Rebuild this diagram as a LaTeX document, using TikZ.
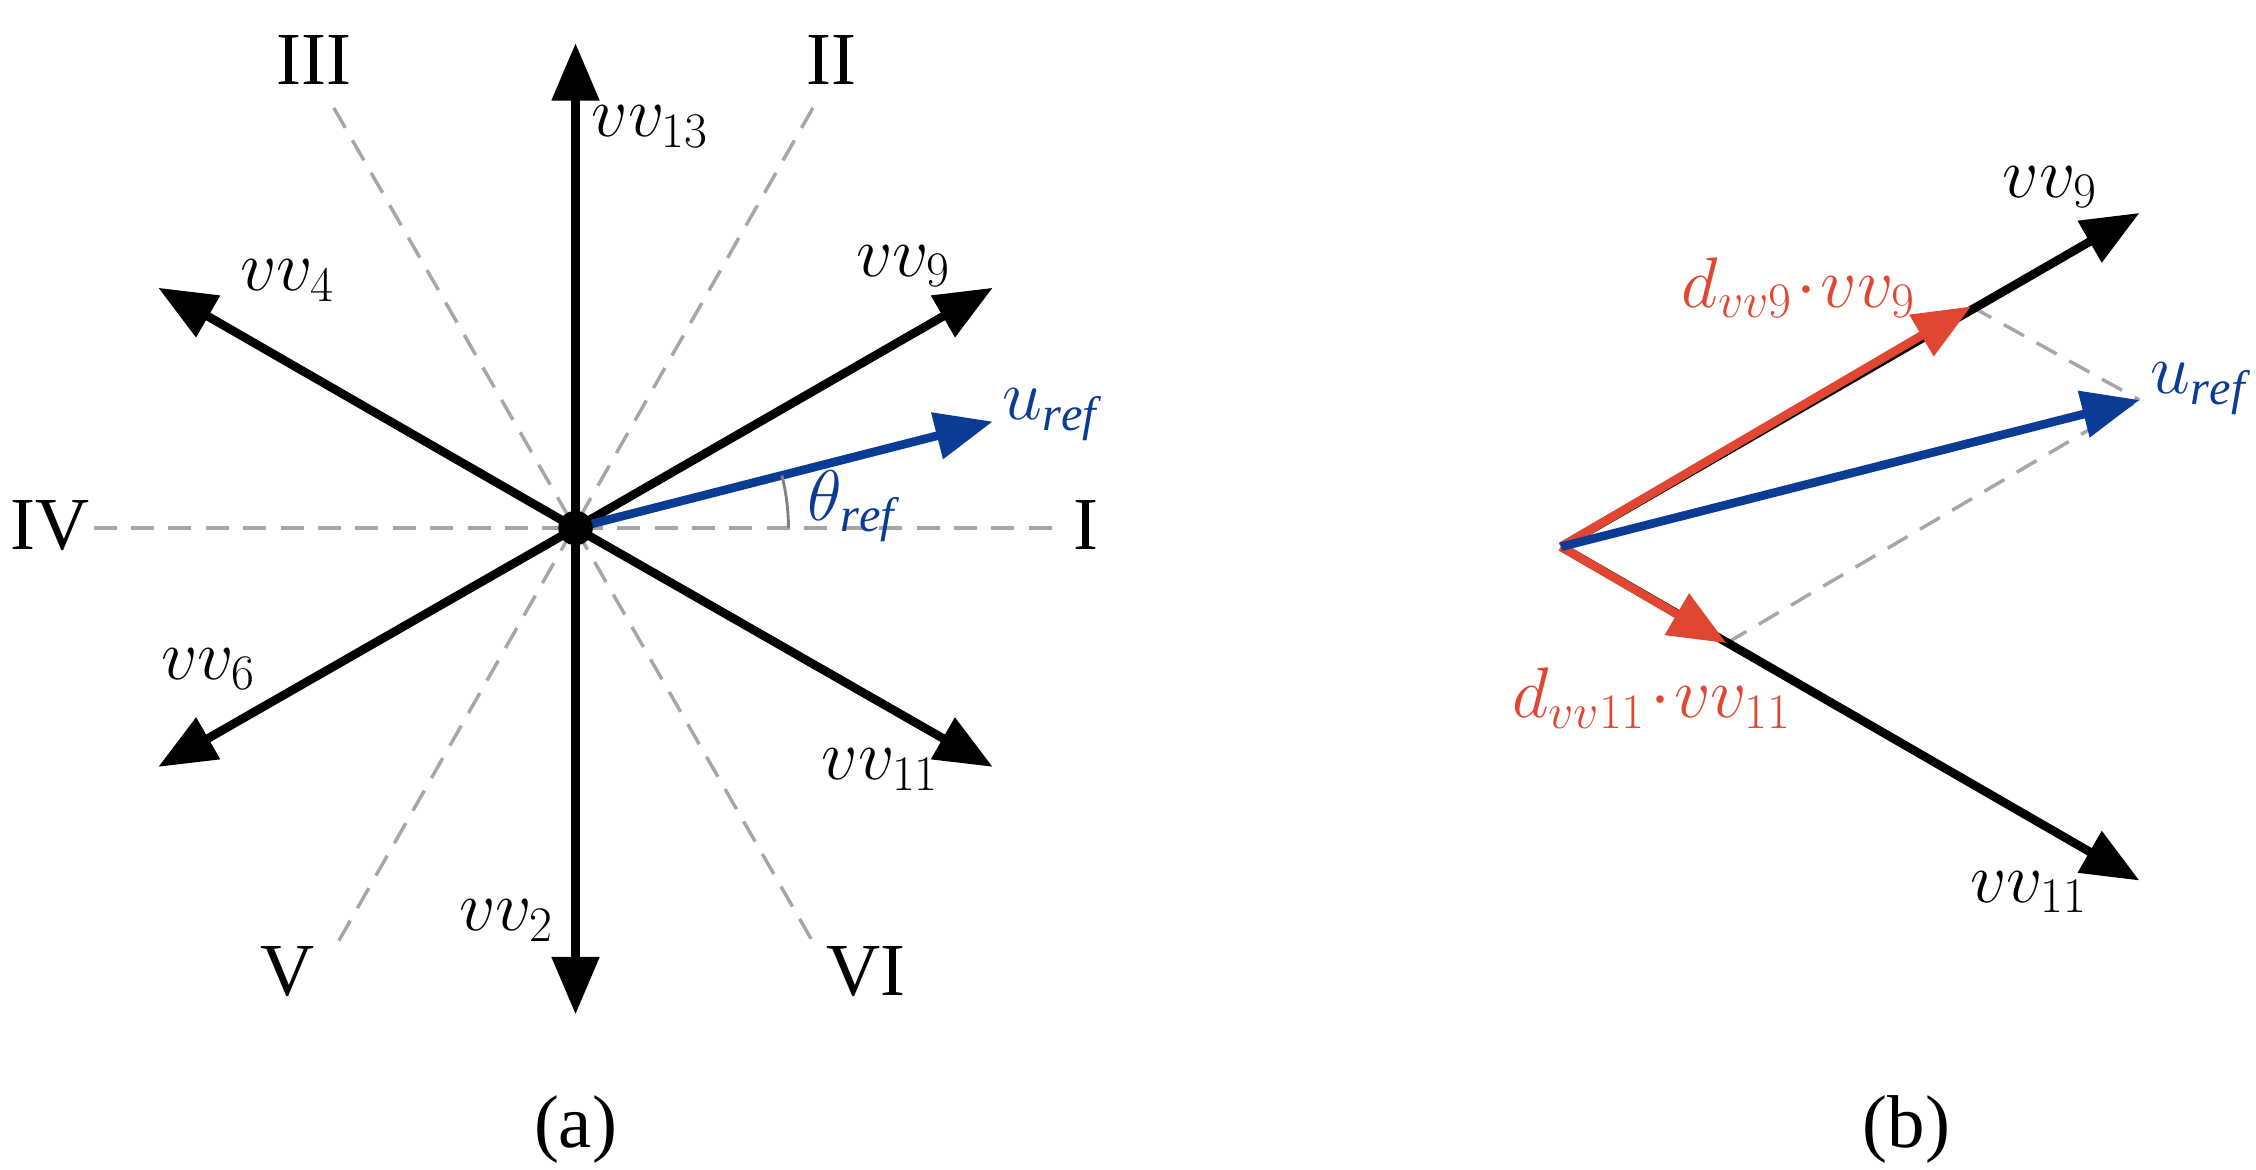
\documentclass[tikz,border=0pt]{standalone}
\usepackage{fontspec}
\setmainfont{Liberation Serif}
\usetikzlibrary{arrows.meta}
\definecolor{myblue}{RGB}{10,60,150}
\definecolor{myred}{RGB}{225,70,50}
\begin{document}
\begin{tikzpicture}[x=0.5pt,y=-0.5pt,
 vec/.style={line width=3pt,-{Triangle[length=20pt,width=16pt]}},
 dsh/.style={gray!70,line width=1.2pt,dash pattern=on 8pt off 5pt},
 lbl/.style={font=\fontsize{24}{28}\selectfont},
 rom/.style={font=\fontsize{26}{30}\selectfont}]
\useasboundingbox (0,0) rectangle (1568,813);
% (a)
\coordinate (O) at (400,367);
\coordinate (I1) at (65,367); \coordinate (I2) at (740,367);
\coordinate (A1) at (232,75); \coordinate (A2) at (568,660);
\coordinate (B1) at (565,75); \coordinate (B2) at (232,660);
\draw[dsh] (I1)--(I2); \draw[dsh] (A1)--(A2); \draw[dsh] (B1)--(B2);
\coordinate (v13) at (400,30); \coordinate (v2) at (400,705);
\coordinate (v9) at (690,200); \coordinate (v4) at (110,200);
\coordinate (v6) at (110,533); \coordinate (v11) at (690,533);
\coordinate (ur) at (690,293);
\foreach \t in {v13,v2,v9,v4,v6,v11} \draw[vec] (O)--(\t);
\draw[vec,myblue] (O)--(ur);
\draw[gray,line width=1pt] (548,367) arc[start angle=0,end angle=-14.3,radius=148];
\fill (O) circle (12);
\node[rom] (r3) at (218,42) {III};
\node[rom] (r2) at (578,42) {II};
\node[rom] (r4) at (35,365) {IV};
\node[rom] (r1) at (755,365) {I};
\node[rom] (r5) at (200,675) {V};
\node[rom] (r6) at (602,675) {VI};
\node[lbl] (l13) at (452,88) {$vv_{13}$};
\node[lbl] (l4) at (200,195) {$vv_{4}$};
\node[lbl] (l9) at (628,185) {$vv_{9}$};
\node[lbl,myblue] (lu) at (730,288) {$u_{\mathit{ref}}$};
\node[lbl,myblue] (lt) at (592,352) {$\theta_{\mathit{ref}}$};
\node[lbl] (l6) at (145,465) {$vv_{6}$};
\node[lbl] (l11) at (612,535) {$vv_{11}$};
\node[lbl] (l2) at (352,640) {$vv_{2}$};
\node[rom] (ca) at (400,785) {(a)};
% (b)
\coordinate (P) at (1085,380);
\coordinate (w9) at (1487,148); \coordinate (w11) at (1487,612);
\coordinate (d9) at (1370,213); \coordinate (d11) at (1200,447);
\coordinate (wu) at (1487,278);
\draw[dsh] (d9)--(wu); \draw[dsh] (d11)--(wu);
\draw[vec] (P)--(w9); \draw[vec] (P)--(w11);
\draw[vec,myred] (P)--(d9); \draw[vec,myred] (P)--(d11);
\draw[vec,myblue] (P)--(wu);
\node[lbl] (m9) at (1425,130) {$vv_{9}$};
\node[lbl,myred] (md9) at (1250,200) {$d_{vv9}\!\cdot\! vv_{9}$};
\node[lbl,myblue] (mu) at (1528,270) {$u_{\mathit{ref}}$};
\node[lbl,myred] (md11) at (1148,485) {$d_{vv11}\!\cdot\! vv_{11}$};
\node[lbl] (m11) at (1410,620) {$vv_{11}$};
\node[rom] (cb) at (1325,785) {(b)};
\end{tikzpicture}
\end{document}
